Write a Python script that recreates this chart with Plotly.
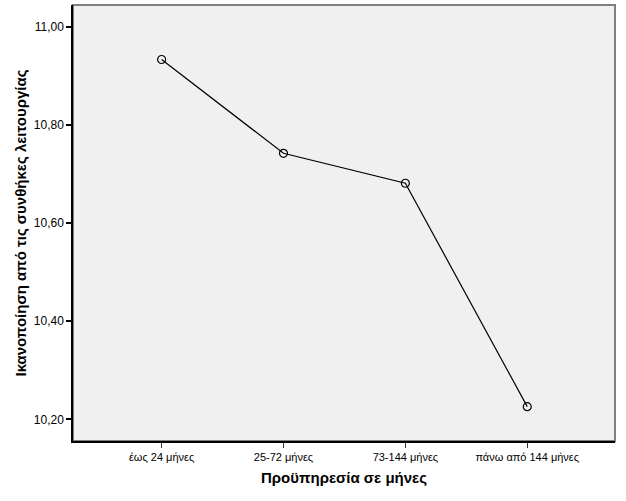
import plotly.graph_objects as go

categories = ["έως 24 μήνες", "25-72 μήνες", "73-144 μήνες", "πάνω από 144 μήνες"]
values = [10.933, 10.742, 10.681, 10.226]
ytick_vals = [10.20, 10.40, 10.60, 10.80, 11.00]
ytick_text = ["10,20", "10,40", "10,60", "10,80", "11,00"]
x_title = "Προϋπηρεσία σε μήνες"
y_title = "Ικανοποίηση από τις συνθήκες λειτουργίας"

xpos = list(range(len(categories)))

fig = go.Figure()
fig.add_trace(go.Scatter(
    x=xpos, y=values, mode="lines+markers",
    line=dict(color="black", width=1.2),
    marker=dict(symbol="circle-open", size=8, color="black", line=dict(width=1.2)),
    hoverinfo="skip", showlegend=False,
))

fig.add_shape(type="rect", xref="paper", yref="paper", x0=0, y0=0, x1=1, y1=1,
              line=dict(color="#7f7f7f", width=2), layer="below")

fig.update_layout(
    width=626, height=501,
    margin=dict(l=73, r=11, t=5, b=60),
    paper_bgcolor="white",
    plot_bgcolor="#f0f0f0",
    font=dict(family="Liberation Sans, Arial, sans-serif", color="black"),
    xaxis=dict(
        range=[-0.727, 3.72],
        tickvals=xpos, ticktext=categories,
        ticks="outside", ticklen=5, tickwidth=1, tickcolor="#333333",
        tickfont=dict(size=11),
        showgrid=False, zeroline=False,
        showline=True, linecolor="black", linewidth=1.5,
        title=dict(text="<b>" + x_title + "</b>", font=dict(size=15), standoff=11),
    ),
    yaxis=dict(
        range=[10.156, 11.044],
        tickvals=ytick_vals, ticktext=ytick_text,
        ticks="outside", ticklen=5, tickwidth=1.5, tickcolor="black",
        tickfont=dict(size=12),
        showgrid=False, zeroline=False,
        showline=True, linecolor="black", linewidth=1.5,
        title=dict(text="<b>" + y_title + "</b>", font=dict(size=15), standoff=4),
    ),
)

fig.write_html("out.html")
